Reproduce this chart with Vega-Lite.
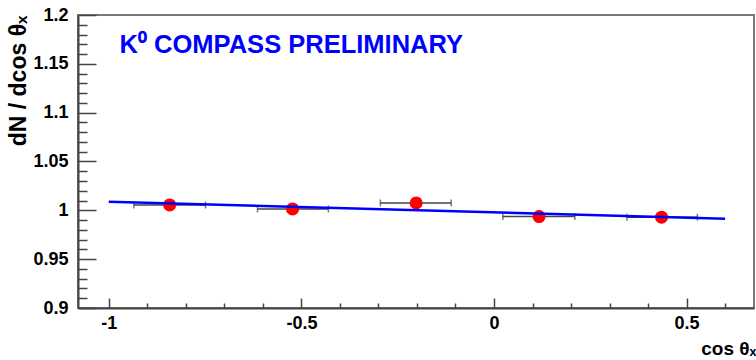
{
  "$schema": "https://vega.github.io/schema/vega-lite/v6.json",
  "width": 676,
  "height": 293,
  "autosize": "none",
  "padding": {"left": 78, "top": 15, "right": 2, "bottom": 52},
  "background": "white",
  "config": {
    "view": {"stroke": "#777777", "strokeWidth": 2},
    "font": "Liberation Sans"
  },
  "datasets": {
    "points": [
      {"cx": -0.842, "y": 1.0055, "xlo": -0.935, "xhi": -0.749},
      {"cx": -0.523, "y": 1.0014, "xlo": -0.614, "xhi": -0.430},
      {"cx": -0.202, "y": 1.0076, "xlo": -0.295, "xhi": -0.111},
      {"cx": 0.117, "y": 0.9936, "xlo": 0.023, "xhi": 0.210},
      {"cx": 0.435, "y": 0.9930, "xlo": 0.345, "xhi": 0.528}
    ],
    "fit": [
      {"cx": -1.0, "y": 1.0087},
      {"cx": 0.6, "y": 0.9915}
    ]
  },
  "layer": [
    {
      "data": {"name": "points"},
      "mark": {"type": "errorbar", "color": "#444444", "thickness": 1.5, "ticks": {"size": 7, "thickness": 1.5, "color": "#444444"}},
      "encoding": {
        "x": {
          "field": "xlo", "type": "quantitative", "title": "cos θₓ",
          "scale": {"domain": [-1.08, 0.675], "nice": false, "zero": false},
          "axis": {
            "values": [-1, -0.9, -0.8, -0.7, -0.6, -0.5, -0.4, -0.3, -0.2, -0.1, 0, 0.1, 0.2, 0.3, 0.4, 0.5, 0.6],
            "tickCount": 100,
            "labelExpr": "abs(datum.value*2 - round(datum.value*2)) < 0.001 ? (datum.value < 0 ? '-' + format(-datum.value, '~g') : format(datum.value, '~g')) : ''",
            "tickSize": {"condition": {"test": "abs(datum.value*2 - round(datum.value*2)) < 0.001", "value": -10}, "value": -5},
            "tickColor": "#444444", "tickWidth": 1.5,
            "domainColor": "#444444", "domainWidth": 2,
            "grid": false,
            "labelFont": "Liberation Sans", "labelFontWeight": "bold", "labelFontSize": 18, "labelColor": "#000000",
            "labelPadding": 16, "labelOverlap": false,
            "titleFont": "Liberation Sans", "titleFontWeight": "bold", "titleFontSize": 19, "titleColor": "#000000",
            "titleAlign": "right", "titleBaseline": "alphabetic", "titleAnchor": "end", "titleX": 678, "titleY": 46
          }
        },
        "x2": {"field": "xhi"},
        "y": {
          "field": "y", "type": "quantitative", "title": "dN / dcos θₓ",
          "scale": {"domain": [0.9, 1.2], "nice": false, "zero": false},
          "axis": {
            "values": [0.9, 0.91, 0.92, 0.93, 0.94, 0.95, 0.96, 0.97, 0.98, 0.99, 1.0, 1.01, 1.02, 1.03, 1.04, 1.05, 1.06, 1.07, 1.08, 1.09, 1.1, 1.11, 1.12, 1.13, 1.14, 1.15, 1.16, 1.17, 1.18, 1.19, 1.2],
            "tickCount": 100,
            "labelExpr": "abs(datum.value*20 - round(datum.value*20)) < 0.001 ? format(datum.value, '~g') : ''",
            "tickSize": {"condition": {"test": "abs(datum.value*20 - round(datum.value*20)) < 0.001", "value": -18}, "value": -9},
            "tickColor": "#444444", "tickWidth": 1.5,
            "domainColor": "#444444", "domainWidth": 2,
            "grid": false,
            "labelFont": "Liberation Sans", "labelFontWeight": "bold", "labelFontSize": 18, "labelColor": "#000000",
            "labelPadding": 28, "labelOverlap": false,
            "titleFont": "Liberation Sans", "titleFontWeight": "bold", "titleFontSize": 23, "titleColor": "#000000",
            "titleAngle": -90, "titleAlign": "right", "titleBaseline": "alphabetic", "titleAnchor": "end", "titleX": -53, "titleY": 0
          }
        }
      }
    },
    {
      "data": {"name": "points"},
      "mark": {"type": "circle", "color": "#ff0000", "opacity": 1, "size": 170},
      "encoding": {
        "x": {"field": "cx", "type": "quantitative", "title": "cos θₓ"},
        "y": {"field": "y", "type": "quantitative", "title": "dN / dcos θₓ"}
      }
    },
    {
      "data": {"name": "fit"},
      "mark": {"type": "line", "color": "#0000ff", "strokeWidth": 2.5},
      "encoding": {
        "x": {"field": "cx", "type": "quantitative", "title": "cos θₓ"},
        "y": {"field": "y", "type": "quantitative", "title": "dN / dcos θₓ"}
      }
    },
    {
      "data": {"values": [{}]},
      "mark": {"type": "text", "align": "left", "baseline": "alphabetic", "font": "Liberation Sans", "fontWeight": "bold", "fontSize": 25.5, "color": "#0000ff"},
      "encoding": {
        "x": {"datum": -0.972, "type": "quantitative"},
        "y": {"datum": 1.161, "type": "quantitative"},
        "text": {"value": "K⁰ COMPASS PRELIMINARY"}
      }
    }
  ]
}
